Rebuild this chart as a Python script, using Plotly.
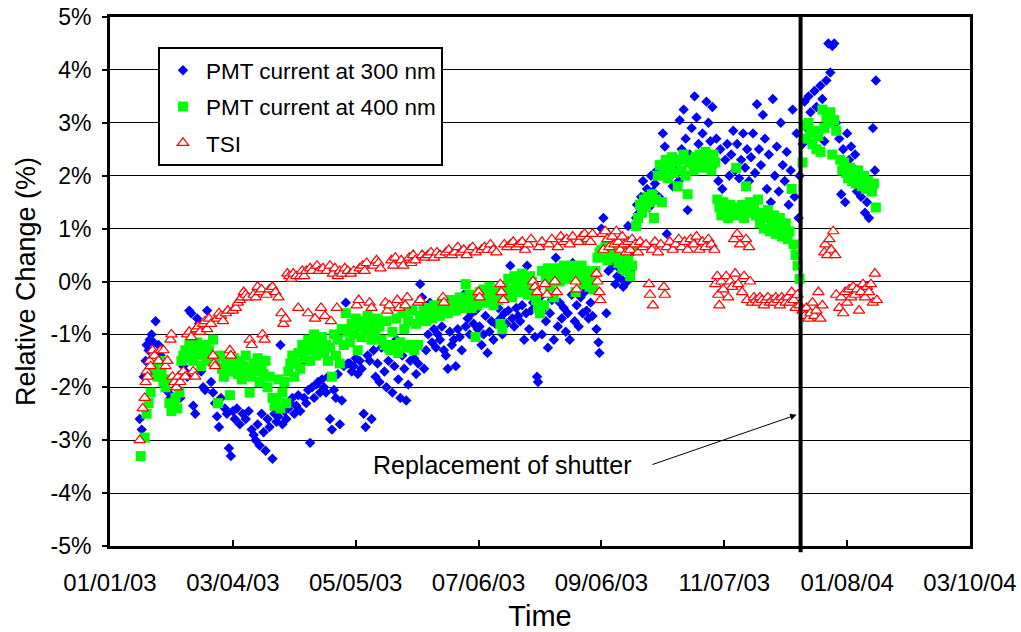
import datetime as dt
import plotly.graph_objects as go

BASE = dt.datetime(2003, 1, 1)

# ---- PMT current at 300 nm (days since 2003-01-01, relative change %) ----
pmt300_days = [15, 16, 17, 18, 18.5, 19.5, 20, 21, 22, 23, 24.5, 25.5, 26.5, 28, 29.5, 30.5, 32, 33.5, 34.5, 35.5,
               37, 38, 39, 40, 41, 42, 43, 44, 45, 46, 47, 48, 49, 50, 51, 52, 53, 54, 55, 56,
               57, 58, 59, 60, 61, 62, 63, 64, 65.5, 67, 68.5, 70, 71.5, 72.5, 73.5, 74.5, 75.5, 76.5, 77.5, 78.5,
               79.5, 80.5, 82, 83, 84, 85, 86, 87, 88, 89, 90, 91, 92, 93, 94, 95, 96, 97, 98, 99,
               100, 101, 102, 103, 104, 105, 106, 107, 108, 109, 110, 111, 112, 113, 114, 115, 116, 117, 118, 119,
               120, 121, 122, 123, 124, 125, 126, 127, 128, 129, 130, 131, 132, 133, 134, 135, 136, 137, 138.5, 139.5,
               140.5, 141.5, 142.5, 143.5, 144.5, 145.5, 146.5, 147.5, 148.5, 149.5, 150.5, 151.5, 152.5, 153.5, 154.5, 155.5, 156.5, 157.5, 158.5, 159.5,
               160.5, 161.5, 162.5, 163.5, 164.5, 165.5, 166.5, 167.5, 168.5, 169.5, 170.5, 171.5, 172.5, 173.5, 174.5, 175.5, 176.5, 177.5, 178.5, 179.5,
               180.5, 181.5, 182.5, 183.5, 184.5, 185.5, 186.5, 187.5, 188.5, 189.5, 190.5, 191.5, 192.5, 193.5, 194.5, 196, 197, 198, 199, 200,
               201, 202, 203, 204, 205, 206, 207, 208, 209, 210, 210.5, 211.5, 212.5, 213.5, 214.5, 215.5, 216, 217, 218, 219,
               220, 221, 222, 223, 224, 225, 226, 227, 228, 229, 230, 231, 232, 233, 233.5, 234.5, 235.5, 236.5, 237.5, 238.5,
               239.5, 240.5, 241.5, 242.5, 243.5, 244.5, 245.5, 246.5, 247, 248, 249, 250, 250.5, 251.5, 253, 254, 255, 256, 257, 258,
               259, 260, 261, 261.5, 262.5, 263.5, 264.5, 265.5, 266, 267, 268, 269, 270, 271, 272, 273, 274, 275, 276, 277,
               278, 279, 280, 281, 282, 283, 284, 285, 286, 287, 287.5, 288.5, 289.5, 290.5, 291.5, 292.5, 293.5, 294.5, 295, 296,
               297, 298, 299, 300, 301, 302, 303, 304, 305, 306, 307, 308, 309, 310.5, 311.5, 312.5, 313.5, 314.5, 315.5, 316.5,
               317.5, 318.5, 319.5, 320.5, 321.5, 322.5, 323.5, 324.5, 325.5, 326.5, 327.5, 328.5, 329.5, 330.5, 331.5, 332.5, 333.5, 334.5, 335.5, 336.5,
               337.5, 338.5, 339.5, 340.5, 341.5, 342.5, 343.5, 344.5, 345.5, 346.5, 347.5, 348, 349.5, 350.5, 351.5, 352.5, 353.5, 354.5, 355.5, 356.5,
               357.5, 358.5, 359.5, 360.5, 361.5, 362.5, 363.5, 364.5, 365.5, 366.5, 368, 369, 370, 371, 372, 373, 374, 375, 376, 377,
               378, 379, 380, 381, 382, 383, 384, 385, 386, 386.5]
pmt300_vals = [-2.6, -2.8, -1.8, -1.5, -1.2, -1.3, -1.1, -1.0, -1.15, -0.75, -1.2, -1.4, -1.5, -1.9, -2.1, -2.2, -2.2, -2.0, -1.9, -2.2,
               -1.6, -1.7, -1.8, -0.55, -0.6, -2.35, -2.5, -0.7, -0.8, -1.7, -2.0, -2.05, -0.55, -0.75, -1.9, -2.1, -2.3, -2.55, -2.75, -2.2,
               -1.6, -2.4, -2.5, -3.15, -3.3, -2.45, -2.6, -2.4, -2.7, -2.5, -2.6, -2.45, -2.8, -2.9, -3.0, -2.7, -3.1, -2.5, -2.85, -3.2,
               -2.6, -2.75, -3.35, -2.5, -2.65, -2.55, -1.2, -2.7, -2.45, -2.6, -2.4, -2.3, -2.2, -2.5, -2.35, -2.15, -2.45, -1.55, -2.2, -2.3,
               -2.05, -3.05, -2.0, -2.2, -1.95, -1.9, -2.1, -1.85, -2.0, -2.1, -1.8, -2.6, -2.8, -2.05, -2.2, -1.75, -2.7, -2.25, -1.6, -0.4,
               -1.55, -1.55, -1.7, -1.6, -1.45, -1.75, -1.5, -1.65, -2.5, -2.75, -1.4, -1.5, -2.6, -1.3, -1.8, -1.55, -1.9, -1.25, -1.7, -2.0,
               -1.5, -1.2, -2.1, -1.6, -1.1, -1.85, -2.2, -1.4, -1.65, -2.25, -1.95, -1.5, -1.3, -1.45, -1.75, -1.55, -0.05, -0.3, -1.65, -1.3,
               -1.0, -0.4, -1.15, -0.9, -1.25, -1.0, -1.1, -0.85, -1.3, -1.4, -1.65, -0.95, -1.2, -1.1, -1.6, -0.9, -1.05, -1.3, -0.25, -0.85,
               -0.7, -1.0, -0.6, -0.8, -0.55, -0.9, -0.85, -1.2, -1.0, -0.65, -1.35, -0.95, -0.75, -1.1, -0.8, -0.5, -0.7, -1.0, -0.6, -0.8,
               -0.55, 0.3, -0.7, -0.85, -0.5, -0.65, -0.75, -0.45, -1.1, -0.6, 0.3, -0.9, -0.55, -0.4, -1.05, -1.8, -1.9, -0.3, -1.0, -0.5,
               -0.75, -1.25, -0.6, -0.35, -1.1, 0.45, -0.85, -0.4, -0.7, -0.5, -0.95, -0.6, -1.1, -0.25, 0.35, -0.75, -0.45, -0.85, -0.3, -0.6,
               -0.2, -0.55, -0.7, -0.4, -0.65, 0.1, -0.9, -1.15, -1.35, 1.0, 1.2, 0.95, -0.6, 0.2, 0.45, 0.3, -0.05, 0.1, 0.25, 0.05,
               -0.1, 0.35, 0.0, 1.05, 0.2, 0.55, 0.75, 1.2, 1.45, 1.3, 1.6, 1.9, 1.55, 1.75, 1.4, 2.0, 1.7, 1.85, 2.1, 1.6,
               2.2, 2.8, 2.55, 0.9, 2.3, 2.0, 1.8, 2.35, 2.1, 1.9, 3.05, 2.5, 3.25, 2.7, 1.35, 2.4, 2.9, 2.2, 3.5, 3.1,
               2.6, 2.3, 2.8, 2.45, 3.4, 3.0, 2.65, 3.3, 2.2, 2.7, 1.9, 2.5, 1.75, 2.3, 2.6, 2.0, 2.4, 2.85, 2.1, 2.6,
               1.95, 2.3, 2.8, 2.15, 2.5, 1.9, 2.35, 2.8, 2.05, 3.35, 2.5, 2.2, 3.15, 2.7, 1.75, 2.4, 1.5, 3.45, 2.0, 2.55,
               1.7, 3.0, 2.2, 1.9, 2.45, 1.45, 2.1, 3.25, 1.6, 2.8, 1.2, 2.0, 2.6, 3.4, 2.9, 3.5, 3.2, 2.6, 3.6, 3.3,
               2.8, 3.7, 3.45, 2.65, 3.8, 4.5, 3.95, 4.45, 4.5, 3.0, 2.7, 1.65, 2.5, 1.5, 2.8, 2.3, 2.55, 2.15, 2.4, 1.7,
               2.0, 1.6, 1.85, 1.3, 1.5, 1.2, 1.75, 2.9, 2.1, 3.8]

# ---- PMT current at 400 nm ----
pmt400_days = [15.5, 17.5, 18.5, 19.5, 20.5, 21.5, 22.5, 24, 25, 26, 27, 28, 29, 30, 31, 32, 33, 34, 35, 36,
               37, 38, 39, 40, 41, 42, 43, 44, 45, 46, 47, 48, 49, 50, 51, 52, 53, 54.5, 55.5, 56.5,
               57.5, 58.5, 59.5, 60.5, 61.5, 62.5, 63.5, 64.5, 65.5, 66.5, 67.5, 68.5, 69.5, 70.5, 71.5, 72.5, 73.5, 74.5, 75.5, 76.5,
               77.5, 78.5, 79.5, 80.5, 82, 83, 84, 85, 86, 87, 88, 89, 90, 91, 92, 93, 94, 95, 96, 97,
               98, 99, 100, 101, 102, 103, 104, 105, 106, 107, 108, 109, 110, 111, 112, 113, 114, 115, 116, 117,
               118, 119, 120, 121, 122, 123, 124, 125, 126, 127, 128, 129, 130, 131, 132, 133, 134, 135, 136, 137,
               138.5, 139.5, 140.5, 141.5, 142.5, 143.5, 144.5, 145.5, 146.5, 147.5, 148.5, 149.5, 150.5, 151.5, 152.5, 153.5, 154.5, 155.5, 156.5, 157.5,
               158.5, 159.5, 160.5, 161.5, 162.5, 163.5, 164.5, 165.5, 166.5, 167.5, 168.5, 169.5, 170.5, 171.5, 172.5, 173.5, 174.5, 175.5, 176.5, 177.5,
               178.5, 179.5, 180.5, 181.5, 182.5, 183.5, 184.5, 185.5, 186.5, 187.5, 188.5, 189.5, 190.5, 191.5, 192.5, 193.5, 194.5, 196, 197, 198,
               199, 200, 201, 202, 203, 204, 205, 206, 207, 208, 209, 210, 211, 212, 213, 214, 215, 216, 217, 218,
               219, 220, 221, 222, 223, 224, 225, 226, 227, 228, 229, 230, 231, 232, 233, 234, 235, 236, 237, 238,
               239, 240, 241, 242, 243, 244, 245, 246, 247, 248, 249, 250, 251, 252, 253.5, 254.5, 255.5, 256.5, 257.5, 258.5,
               259.5, 260.5, 261.5, 262.5, 263.5, 264.5, 265.5, 266.5, 267.5, 268.5, 269.5, 270.5, 271.5, 272.5, 273.5, 274.5, 275.5, 276.5, 277.5, 278.5,
               279.5, 280.5, 281.5, 282.5, 283.5, 284.5, 285.5, 286.5, 287.5, 288.5, 289.5, 290.5, 291.5, 292.5, 293.5, 294.5, 295.5, 296.5, 297.5, 298.5,
               299.5, 300.5, 301.5, 302.5, 303.5, 304.5, 305.5, 306.5, 307.5, 308.5, 309.5, 311, 312, 313, 314, 315, 316, 317, 318, 319,
               320, 321, 322, 323, 324, 325, 326, 327, 328, 329, 330, 331, 332, 333, 334, 335, 336, 337, 338, 339,
               340, 341, 342, 343, 344, 345, 346, 347, 348, 349.5, 350.5, 351.5, 352.5, 353.5, 354.5, 355.5, 356.5, 357.5, 358.5, 359.5,
               360.5, 361.5, 362.5, 363.5, 364.5, 365.5, 366.5, 368.5, 369.5, 370.5, 371.5, 372.5, 373.5, 374.5, 375.5, 376.5, 377.5, 378.5, 379.5, 380.5,
               381.5, 382.5, 383.5, 384.5, 385.5, 386.5]
pmt400_vals = [-3.3, -2.95, -2.5, -2.3, -2.1, -1.7, -1.6, -1.8, -1.5, -1.75, -1.9, -2.0, -1.85, -2.3, -2.45, -2.35, -2.2, -2.4, -2.1, -1.5,
               -1.4, -1.3, -1.45, -1.2, -1.35, -1.5, -1.25, -1.15, -1.3, -1.6, -1.4, -1.2, -1.5, -1.3, -1.45, -1.1, -1.55, -2.3, -1.4, -1.65,
               -1.8, -1.5, -1.6, -2.15, -1.7, -1.45, -1.6, -1.75, -1.5, -1.85, -1.6, -1.4, -1.7, -2.1, -1.8, -1.55, -1.7, -1.45, -1.9, -1.6,
               -1.75, -1.5, -2.0, -1.8, -2.2, -2.35, -2.25, -1.85, -2.4, -2.1, -1.9, -2.3, -1.7, -1.55, -1.4, -1.8, -1.55, -1.35, -1.65, -1.2,
               -1.45, -1.3, -1.1, -1.5, -1.25, -1.0, -1.4, -1.15, -1.3, -1.05, -1.35, -1.2, -1.5, -1.25, -1.8, -1.0, -1.4, -1.1, -1.55, -0.9,
               -1.2, -0.6, -0.95, -1.15, -0.8, -1.0, -0.7, -1.3, -0.85, -1.05, -0.75, -0.95, -0.65, -0.9, -1.1, -0.8, -1.0, -0.7, -0.85, -1.1,
               -1.2, -0.75, -1.25, -1.3, -0.95, -1.2, -0.7, -1.35, -1.15, -0.6, -0.9, -1.25, -0.75, -1.2, -0.55, -1.3, -0.8, -1.2, -0.65, -0.7,
               -0.5, -0.75, -0.6, -0.55, -0.7, -0.45, -0.6, -0.5, -0.65, -0.4, -0.55, -0.45, -0.6, -0.35, -0.5, -0.4, -0.55, -0.45, -0.3, -0.5,
               -0.35, -0.05, -0.4, -0.25, -0.5, -0.3, -1.05, -0.45, -0.2, -0.35, -0.15, -0.4, -0.25, -0.1, -0.3, -0.45, -0.2, -0.35, -0.8, -0.9,
               -0.1, -0.25, 0.05, -0.15, -0.3, 0.1, -0.05, -0.2, 0.0, 0.15, -0.1, 0.05, -0.25, 0.1, 0.0, -0.15, -0.35, -0.5, -0.6, 0.2,
               -0.45, 0.05, 0.25, -0.1, 0.15, -0.3, 0.1, 0.25, 0.0, 0.2, 0.3, 0.05, 0.25, 0.1, 0.3, 0.15, -0.2, 0.2, 0.05, 0.3,
               -0.05, 0.2, 0.1, -0.1, 0.0, -0.15, 0.2, 0.45, 0.55, 0.6, 0.5, 0.65, 0.4, 0.55, 0.6, 0.45, 0.55, 0.35, 0.5, 0.25,
               0.6, 0.2, 0.4, 0.1, 0.3, 0.65, 1.05, 1.2, 1.45, 1.3, 1.55, 1.4, 1.6, 1.5, 1.65, 1.2, 1.55, 2.0, 2.2, 1.5,
               2.1, 2.3, 1.95, 2.2, 2.35, 2.05, 2.25, 1.8, 2.3, 2.1, 2.4, 2.0, 1.65, 2.25, 2.3, 2.1, 2.35, 2.2, 2.4, 2.15,
               2.3, 2.45, 2.2, 2.35, 2.1, 2.4, 2.25, 1.55, 1.4, 1.25, 1.5, 1.35, 1.2, 1.45, 1.3, 1.4, 2.15, 1.25, 1.35, 1.45,
               1.2, 1.8, 1.3, 1.5, 1.35, 1.4, 1.25, 1.55, 1.1, 1.3, 1.0, 1.2, 1.35, 0.95, 1.1, 1.25, 0.9, 1.05, 1.2, 0.85,
               1.0, 1.1, 0.8, 0.95, 1.75, 0.7, 0.5, 0.3, 0.05, 2.25, 2.95, 2.7, 3.0, 2.8, 2.6, 2.85, 2.5, 2.75, 2.45, 3.25,
               2.9, 3.1, 3.0, 3.2, 2.4, 3.05, 2.85, 2.3, 2.1, 2.25, 2.05, 1.95, 2.15, 1.9, 2.0, 1.85, 2.1, 1.95, 1.8, 2.0,
               1.75, 1.9, 1.8, 1.7, 1.85, 1.4]

# ---- TSI ----
tsi_days = [15, 16.5, 17.5, 18, 18.5, 19, 20, 20.5, 21.5, 22.5, 24.5, 25.5, 27, 28, 29, 30.5, 31, 31.5, 32.5, 33.5,
            34.5, 35.5, 37, 38, 39, 40, 41, 42, 43, 43.5, 44.5, 45.5, 47, 48, 49, 50, 51, 52, 52.5, 53,
            54, 55, 56, 57, 58.5, 59.5, 60.5, 61, 62, 63.5, 64.5, 65.5, 66.5, 67.5, 68.5, 69.5, 70.5, 71.5, 72.5, 73.5,
            74.5, 75.5, 76.5, 77, 78, 79, 80.5, 82, 83.5, 85, 86.5, 87.5, 88.5, 89.5, 90.5, 91.5, 92.5, 94, 95, 96,
            97, 98, 99, 100, 101, 102, 103.5, 104.5, 105.5, 106.5, 107.5, 108.5, 109.5, 111, 111.5, 112.5, 113.5, 114.5, 115, 116,
            117, 118.5, 120, 121.5, 123, 124.5, 125.5, 126, 127.5, 128.5, 129.5, 131, 132, 133, 134.5, 135.5, 136.5, 139, 140, 141,
            142, 143, 144, 145, 146, 147, 148, 149, 150, 151, 152, 153, 154, 155.5, 156.5, 157.5, 159, 160.5, 162, 163.5,
            165, 166.5, 168, 168.5, 169.5, 171, 172.5, 174, 175.5, 177, 178.5, 180, 181.5, 183, 184.5, 186, 186.5, 187.5, 189, 190.5,
            192, 193.5, 195, 197, 197.5, 198.5, 199, 200.5, 202, 203.5, 205, 206.5, 208, 209.5, 211, 212.5, 213.5, 214.5, 215.5, 216.5,
            218, 219.5, 220.5, 221.5, 223, 224.5, 225.5, 226, 227.5, 229, 230.5, 232, 233.5, 235, 235.5, 236.5, 238, 239.5, 241, 242.5,
            243.5, 245.5, 246, 247, 247.5, 248.5, 249, 250, 251, 252, 253.5, 254.5, 255.5, 256.5, 257.5, 258.5, 259.5, 260.5, 261.5, 262.5,
            263.5, 265, 266.5, 267.5, 269, 270.5, 272, 272.5, 273.5, 274, 275, 276.5, 278, 279.5, 280, 281, 282.5, 284, 285.5, 287,
            288.5, 290, 291.5, 293, 294.5, 296, 297.5, 299, 300.5, 302, 303.5, 305, 305.5, 306.5, 307, 307.5, 308.5, 309.5, 311, 312,
            313, 314, 315, 315.5, 316.5, 317, 318, 319, 320, 321, 321.5, 322.5, 323, 324, 325, 326, 327, 328, 329, 330,
            331, 332, 333, 334, 335, 336, 337, 338, 339, 340, 341, 342, 343, 344, 345, 346, 347, 348, 349.5, 350.5,
            351.5, 352.5, 353.5, 354.5, 355.5, 356.5, 357.5, 358.5, 359.5, 360.5, 361, 362, 363, 364, 365, 366, 366.5, 368, 369, 370,
            371, 372, 373, 374, 375, 376, 377, 378, 379, 380, 381, 382, 383, 384, 385, 386, 387]
tsi_vals = [-3.0, -2.4, -2.2, -1.9, -1.7, -1.8, -1.5, -1.6, -1.3, -1.4, -1.5, -1.3, -1.3, -1.6, -1.5, -1.1, -1.0, -1.8, -1.9, -2.0,
            -1.8, -1.9, -1.7, -1.8, -1.0, -0.95, -1.05, -1.7, -1.8, -0.9, -0.85, -0.95, -0.8, -0.75, -0.9, -0.7, -0.8, -1.4, -1.55, -1.6,
            -0.7, -0.6, -0.65, -0.75, -0.6, -0.55, -1.3, -1.4, -0.55, -0.5, -0.4, -0.35, -0.3, -0.2, -0.25, -0.3, -1.1, -1.2, -0.25, -0.3,
            -0.1, -0.2, -0.15, -1.0, -1.1, -0.25, -0.15, -0.1, -0.2, -0.3, -0.6, -0.8, -0.7, 0.15, 0.1, 0.05, 0.15, 0.1, -0.5, 0.1,
            0.2, 0.1, 0.2, -0.6, 0.25, 0.2, -0.7, 0.3, 0.2, -0.5, 0.25, -0.65, 0.2, 0.3, -0.75, 0.15, 0.25, -0.5, 0.1, 0.2,
            0.15, 0.25, 0.2, 0.15, 0.2, -0.45, -0.35, 0.25, 0.3, 0.2, 0.35, -0.4, -0.5, 0.3, 0.4, 0.35, 0.25, -0.4, -0.55, -0.45,
            0.4, 0.3, 0.45, -0.35, -0.5, 0.4, 0.3, -0.45, -0.3, 0.45, 0.35, 0.5, 0.4, -0.4, -0.35, 0.5, 0.45, 0.5, 0.55, 0.45,
            0.55, 0.5, -0.3, -0.4, 0.55, 0.6, 0.5, 0.55, 0.65, 0.55, 0.6, 0.5, 0.6, 0.65, 0.55, -0.2, -0.3, 0.6, 0.65, 0.6,
            0.7, 0.6, 0.55, -0.05, -0.2, -0.35, 0.7, 0.65, 0.7, 0.75, 0.65, 0.7, 0.75, 0.6, 0.7, 0.8, 0.0, -0.1, -0.2, 0.65,
            0.75, -0.05, -0.25, 0.7, 0.8, 0.0, -0.2, 0.65, 0.85, 0.75, 0.8, 0.7, 0.85, 0.0, -0.15, 0.75, 0.85, 0.9, 0.8, 0.75,
            0.9, 0.15, 0.0, -0.2, -0.35, 0.9, 0.6, 0.95, 0.8, 0.65, 0.85, 0.7, 0.95, 0.75, 0.6, 0.85, 0.7, 0.55, 0.75, 0.6,
            0.8, 0.7, 0.55, 0.75, 0.65, 0.7, -0.05, -0.25, 0.6, -0.45, 0.75, 0.55, 0.7, -0.1, -0.25, 0.65, 0.75, 0.6, 0.7, 0.8,
            0.65, 0.75, 0.6, 0.8, 0.7, 0.85, 0.6, 0.75, 0.65, 0.8, 0.7, 0.6, -0.05, 0.1, -0.25, -0.45, 0.0, -0.15, 0.1, -0.3,
            0.0, -0.1, 0.8, 0.15, 0.9, -0.05, 0.7, -0.2, 0.1, 0.8, -0.35, 0.65, 0.0, -0.4, -0.3, -0.35, -0.4, -0.3, -0.35, -0.45,
            -0.35, -0.3, -0.4, -0.35, -0.4, -0.3, -0.35, -0.45, -0.3, -0.35, -0.4, -0.3, -0.4, -0.2, -0.35, -0.5, -0.25, -0.45, -0.55, -0.65,
            -0.5, -0.7, -0.6, -0.4, -0.65, -0.55, -0.2, -0.7, -0.45, 0.55, 0.7, 0.5, 0.8, 0.6, 0.95, 0.5, -0.25, -0.5, -0.3, -0.6,
            -0.2, -0.4, -0.15, -0.3, -0.1, -0.25, -0.15, -0.55, -0.2, -0.05, -0.3, -0.1, -0.2, -0.05, -0.4, 0.15, -0.35]

# ---- axes ----
x_tick_dates = ["2003-01-01", "2003-03-04", "2003-05-05", "2003-07-06", "2003-09-06",
                "2003-11-07", "2004-01-08", "2004-03-10"]
x_tick_text = ["01/01/03", "03/04/03", "05/05/03", "07/06/03", "09/06/03",
               "11/07/03", "01/08/04", "03/10/04"]
y_tick_vals = [-5, -4, -3, -2, -1, 0, 1, 2, 3, 4, 5]
y_tick_text = ["-5%", "-4%", "-3%", "-2%", "-1%", "0%", "1%", "2%", "3%", "4%", "5%"]

shutter_date = "2003-12-15 12:00"
arrow_head = ("2003-12-13 12:00", -2.52)
arrow_tail = ("2003-10-01", -3.47)
label_pos = ("2003-07-18", -3.47)


def to_dates(days):
    return [BASE + dt.timedelta(days=d) for d in days]


FONT = "Liberation Sans, Arial, sans-serif"

fig = go.Figure()
fig.add_trace(go.Scatter(
    x=to_dates(pmt300_days), y=pmt300_vals, mode="markers", name="PMT current at 300 nm",
    legendgroup="a",
    marker=dict(symbol="diamond", size=8, color="#0000FF", line=dict(width=0))))
fig.add_trace(go.Scatter(
    x=to_dates(pmt400_days), y=pmt400_vals, mode="markers", name="PMT current at 400 nm",
    legendgroup="b",
    marker=dict(symbol="square", size=10, color="#00FF00", line=dict(width=0))))
fig.add_trace(go.Scatter(
    x=to_dates(tsi_days), y=tsi_vals, mode="markers", name="TSI",
    legendgroup="c",
    marker=dict(symbol="triangle-up", size=10, color="white", line=dict(width=1.2, color="#FF0000"))))

fig.add_shape(type="line", xref="x", yref="paper", x0=shutter_date, x1=shutter_date,
              y0=-0.012, y1=1, line=dict(color="black", width=4), layer="above")

fig.add_annotation(x=arrow_head[0], y=arrow_head[1], ax=arrow_tail[0], ay=arrow_tail[1],
                   axref="x", ayref="y", xref="x", yref="y", text="", showarrow=True,
                   arrowhead=2, arrowsize=1.3, arrowwidth=1, arrowcolor="black", standoff=0)
fig.add_annotation(x=label_pos[0], y=label_pos[1], xref="x", yref="y",
                   text="Replacement of shutter", showarrow=False,
                   font=dict(family=FONT, size=25, color="black"))

fig.update_layout(
    width=1021, height=632,
    margin=dict(l=110, r=51, t=17, b=86, autoexpand=False),
    paper_bgcolor="white", plot_bgcolor="white",
    showlegend=True,
    legend=dict(x=0.0558, y=0.943, xanchor="left", yanchor="top",
                bgcolor="white", bordercolor="black", borderwidth=2,
                font=dict(family=FONT, size=22.5, color="black"),
                traceorder="grouped", tracegroupgap=4, itemwidth=36),
    xaxis=dict(type="date", range=["2003-01-01", "2004-03-10"], automargin=False,
               tickvals=x_tick_dates, ticktext=x_tick_text,
               ticks="inside", ticklen=6, tickwidth=1.5, tickcolor="black",
               showgrid=False, zeroline=False,
               showline=True, linecolor="black", linewidth=3, mirror=True,
               tickfont=dict(family=FONT, size=24, color="black"),
               ticklabelstandoff=13,
               title=dict(text="Time", font=dict(family=FONT, size=29, color="black"), standoff=12)),
    yaxis=dict(range=[-5, 5], tickvals=y_tick_vals, ticktext=y_tick_text, automargin=False,
               ticks="outside", ticklen=5, tickwidth=1.5, tickcolor="black",
               showgrid=True, gridcolor="black", gridwidth=1, zeroline=False,
               showline=True, linecolor="black", linewidth=3, mirror=True,
               tickfont=dict(family=FONT, size=23, color="black"),
               ticklabelstandoff=6,
               title=dict(text="Relative Change (%)", font=dict(family=FONT, size=27, color="black"), standoff=8)),
)

fig.write_html("out.html")
